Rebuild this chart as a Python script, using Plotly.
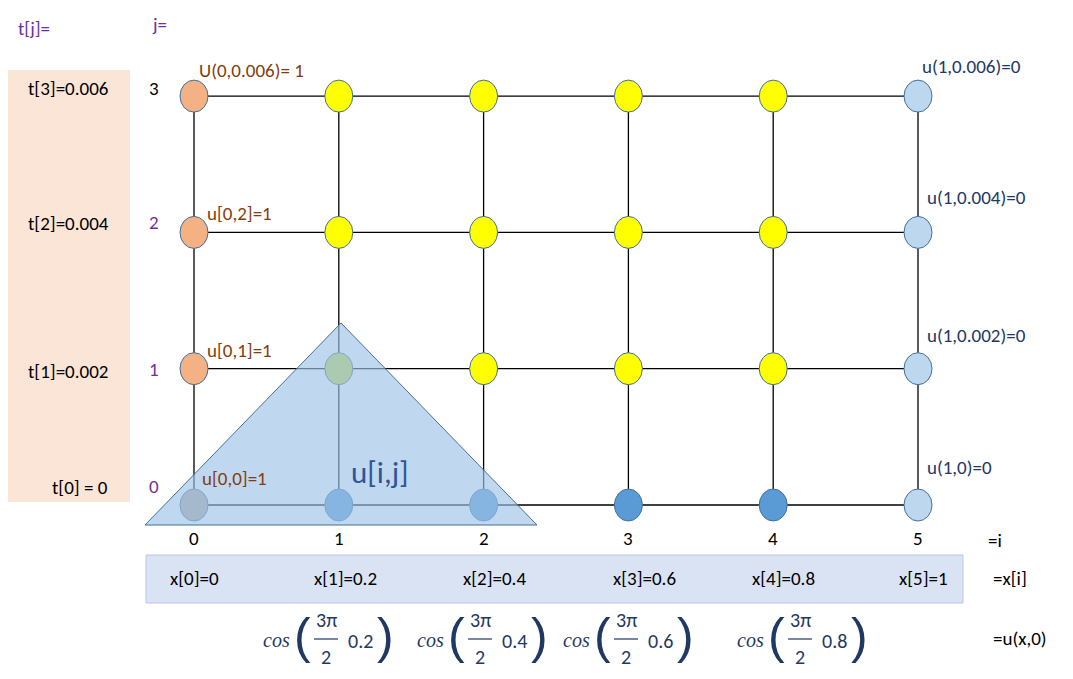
import plotly.graph_objects as go

# ---- data ----
i_vals = [0, 1, 2, 3, 4, 5]
j_vals = [0, 1, 2, 3]
x_vals = [0, 0.2, 0.4, 0.6, 0.8, 1]
t_vals = [0, 0.002, 0.004, 0.006]
t_labels = ["t[0] = 0", "t[1]=0.002", "t[2]=0.004", "t[3]=0.006"]
x_labels = ["x[0]=0", "x[1]=0.2", "x[2]=0.4", "x[3]=0.6", "x[4]=0.8", "x[5]=1"]
cos_args = ["0.2", "0.4", "0.6", "0.8"]
left_labels = ["u[0,0]=1", "u[0,1]=1", "u[0,2]=1", "U(0,0.006)= 1"]
right_labels = ["u(1,0)=0", "u(1,0.002)=0", "u(1,0.004)=0", "u(1,0.006)=0"]

# pixel <-> data helpers (layout only)
PX, PY = 144.8, 136.3
def dx(px): return (px - 194) / PX
def dy(py): return (505 - py) / PY

ORANGE, YEL, LB, MB = "#F4B183", "#FFFF00", "#BDD7EE", "#5B9BD5"
def node_color(i, j):
    if i == 0 and j == 0: return "#B5A39B"
    if i == 0: return ORANGE
    if i == 5: return LB
    if i == 1 and j == 1: return "#C5D64A"
    if j == 0: return MB
    return YEL

fig = go.Figure()
shapes = []
shapes.append(dict(type="rect", x0=dx(0), x1=dx(130), y0=dy(70), y1=dy(502),
                   fillcolor="#FBE5D6", line_width=0, layer="below"))
shapes.append(dict(type="rect", x0=dx(146), x1=dx(963), y0=dy(555), y1=dy(603),
                   fillcolor="#DAE3F3", line=dict(color="#B4C7E7", width=1), layer="below"))
for j in j_vals:
    shapes.append(dict(type="line", x0=i_vals[0], x1=i_vals[-1], y0=j, y1=j,
                       line=dict(color="black", width=1.3)))
for i in i_vals:
    shapes.append(dict(type="line", x0=i, x1=i, y0=j_vals[0], y1=j_vals[-1],
                       line=dict(color="black", width=1.3)))
rw, rh = 14 / PX, 16 / PY
for i in i_vals:
    for j in j_vals:
        shapes.append(dict(type="circle", x0=i - rw, x1=i + rw, y0=j - rh, y1=j + rh,
                           fillcolor=node_color(i, j), line=dict(color="#41719C", width=1)))
shapes.append(dict(type="path",
                   path=f"M {dx(145)},{dy(525)} L {dx(341)},{dy(323)} L {dx(537)},{dy(525)} Z",
                   fillcolor="rgba(157,195,230,0.65)", line=dict(color="#41719C", width=1)))

ann = []
FONT = "Carlito, Calibri, Lato, sans-serif"
def T(px, py, text, color="black", size=19, xanchor="center", family=FONT):
    ann.append(dict(x=dx(px), y=dy(py), text=text, showarrow=False, xanchor=xanchor,
                    yanchor="middle", font=dict(family=family, size=size, color=color)))

PUR, BRN, NAV = "#7030A0", "#843C0C", "#203864"
T(16, 28, "t[j]=", PUR, xanchor="left")
T(150, 24, "j=", PUR, xanchor="left")
t_py = [487, 371, 223, 88]
for k, j in enumerate(j_vals):
    T(68 if k else 80, t_py[k], t_labels[k])
j_py = [486, 369, 222, 88]
for k, j in enumerate(j_vals):
    T(154, j_py[k], str(j), "black" if j == 3 else PUR)
lpos = [(200, 478), (205, 350), (205, 213), (197, 70)]
for k, (px, py) in enumerate(lpos):
    T(px, py, left_labels[k], BRN, xanchor="left")
rpos = [(925, 467), (925, 335), (925, 197), (920, 66)]
for k, (px, py) in enumerate(rpos):
    T(px, py, right_labels[k], NAV, xanchor="left")
T(380, 472, "u[i,j]", "#2F5597", size=31)
for i in i_vals:
    ann.append(dict(x=i, y=dy(538), text=str(i), showarrow=False,
                    font=dict(family=FONT, size=19, color="black")))
T(995, 540, "=i")
xl_px = [194, 345, 494, 644, 783, 923]
for k, lab in enumerate(x_labels):
    T(xl_px[k], 578, lab)
T(1010, 578, "=x[i]")
T(1020, 638, "=u(x,0)")
cos_px = [322, 476, 622, 796]
CN = "#1F3864"
for k, arg in enumerate(cos_args):
    c = cos_px[k]
    T(c - 46, 640, "<i>cos</i>", CN, size=20, family="Liberation Serif")
    T(c - 20, 636, "(", CN, size=50, family="Liberation Sans")
    T(c + 63, 636, ")", CN, size=50, family="Liberation Sans")
    T(c + 4, 620, "3π", CN, size=20)
    T(c + 4, 657, "2", CN, size=20)
    shapes.append(dict(type="line", x0=dx(c - 8), x1=dx(c + 16), y0=dy(639), y1=dy(639),
                       line=dict(color=CN, width=1.2)))
    T(c + 38, 641, arg, CN, size=20)

# page body has an 8px margin: shift the visible window so marks land where intended
OFF = 8
fig.update_layout(width=1073, height=679, margin=dict(l=0, r=0, t=0, b=0),
                  plot_bgcolor="white", paper_bgcolor="white", shapes=shapes, annotations=ann,
                  xaxis=dict(range=[dx(OFF), dx(1073 + OFF)], visible=False, fixedrange=True),
                  yaxis=dict(range=[dy(679 + OFF), dy(OFF)], visible=False, fixedrange=True),
                  showlegend=False)
fig.write_html("out.html")
